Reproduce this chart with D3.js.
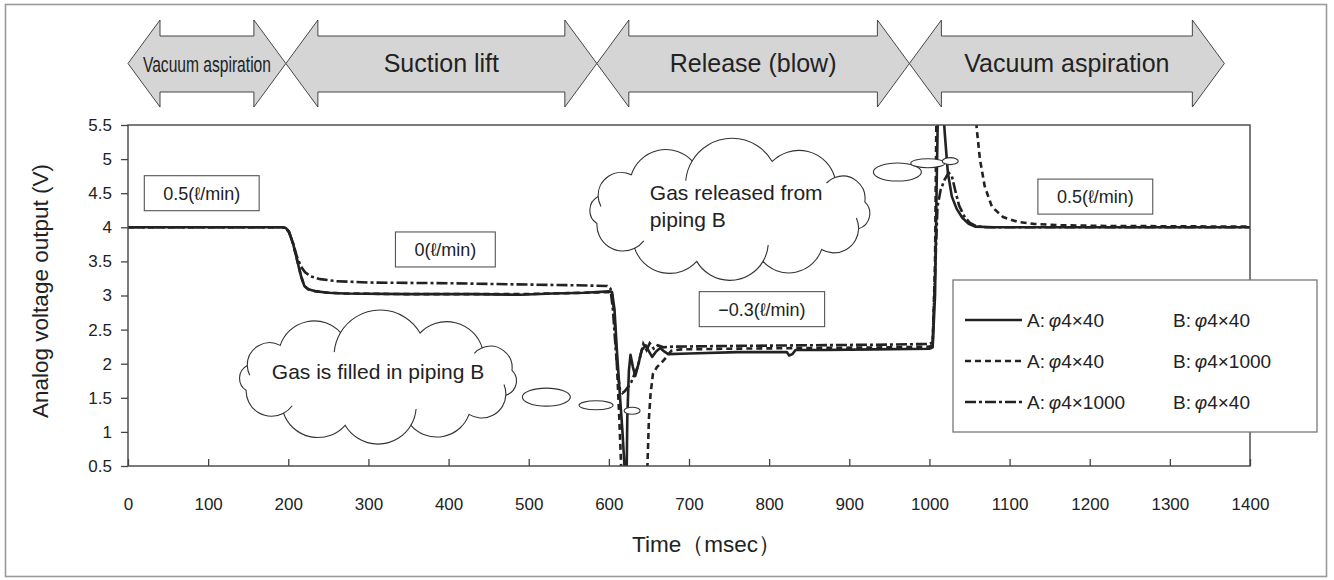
<!DOCTYPE html>
<html><head><meta charset="utf-8">
<script src="https://cdn.jsdelivr.net/npm/d3@7"></script>
<style>
body{margin:0;background:#fff}
svg{display:block}
text{font-family:"Liberation Sans",Arial,"DejaVu Sans",sans-serif;fill:#222}
</style>
</head><body>
<svg id="c" width="1334" height="580"></svg>
<script>
// ---------- data ----------
const xTicks = [0,100,200,300,400,500,600,700,800,900,1000,1100,1200,1300,1400];
const yTicks = [0.5,1,1.5,2,2.5,3,3.5,4,4.5,5,5.5];
const xTitle = "Time（msec）";
const yTitle = "Analog voltage output (V)";

// A:φ4×40 B:φ4×40 (solid)
const seriesSolid = [[0,4.0],[192,4.0],[197,3.99],[201,3.93],[206,3.76],[211,3.52],[216,3.28],[220,3.14],[225,3.09],[235,3.06],[250,3.04],[270,3.03],[350,3.02],[430,3.02],[490,3.01],[530,3.03],[570,3.04],[600,3.06],[604,3.05],[607,2.8],[610,2.2],[614,1.5],[617,1.0],[620,0.4],[621,0.2],[622,0.2],[623,1.2],[625,1.9],[627,2.13],[630,1.95],[633,1.82],[637,2.0],[641,2.2],[646,2.27],[650,2.18],[654,2.1],[659,2.18],[664,2.23],[669,2.18],[674,2.14],[700,2.15],[760,2.17],[800,2.17],[822,2.17],[825,2.12],[829,2.14],[833,2.2],[870,2.2],[930,2.21],[1000,2.22],[1004,2.24],[1007,3.0],[1009,4.6],[1011,6.0],[1016,6.0],[1019,5.4],[1023,4.8],[1028,4.45],[1034,4.27],[1041,4.14],[1049,4.05],[1057,4.01],[1080,4.0],[1400,4.0]];
// A:φ4×40 B:φ4×1000 (dotted)
const seriesDotted = [[0,4.0],[192,4.0],[197,3.99],[201,3.93],[206,3.76],[211,3.52],[216,3.28],[220,3.14],[225,3.09],[235,3.06],[250,3.04],[270,3.03],[350,3.02],[430,3.02],[490,3.02],[530,3.03],[570,3.04],[600,3.05],[604,3.04],[607,2.7],[610,2.0],[613,1.2],[616,0.3],[645,0.3],[648,0.45],[650,1.2],[652,1.55],[655,1.85],[660,1.95],[666,2.02],[672,2.1],[678,2.19],[690,2.21],[750,2.22],[850,2.23],[950,2.24],[1000,2.25],[1004,2.27],[1007,3.5],[1009,6.0],[1056,6.0],[1059,5.45],[1063,5.0],[1069,4.6],[1078,4.3],[1092,4.15],[1110,4.08],[1130,4.05],[1165,4.03],[1220,4.02],[1300,4.015],[1400,4.01]];
// A:φ4×1000 B:φ4×40 (dash-dot)
const seriesDashDot = [[0,4.0],[192,4.0],[197,3.99],[201,3.93],[206,3.76],[211,3.56],[216,3.42],[221,3.34],[228,3.28],[240,3.24],[260,3.21],[300,3.19],[400,3.18],[500,3.16],[560,3.15],[598,3.14],[602,3.1],[605,2.8],[608,2.3],[611,1.85],[614,1.62],[617,1.57],[620,1.6],[624,1.66],[628,1.73],[632,1.85],[636,1.95],[639,2.1],[643,2.29],[647,2.2],[651,2.3],[656,2.22],[661,2.27],[668,2.24],[680,2.25],[750,2.26],[850,2.27],[950,2.28],[1000,2.29],[1004,2.31],[1007,3.3],[1010,4.3],[1014,4.55],[1019,4.7],[1024,4.8],[1028,4.75],[1032,4.55],[1037,4.32],[1043,4.17],[1050,4.07],[1058,4.02],[1070,4.0],[1400,4.0]];

const legendA = ["4×40","4×40","4×1000"];
const legendB = ["4×40","4×1000","4×40"];

// process phases (time, ms)
const phaseLabels = ["Vacuum aspiration","Suction lift","Release (blow)","Vacuum aspiration"];
const phaseBounds = [0,197,585,975,1368];

// flow-rate boxes (label, time, voltage of centre)
const rateLabels = ["0.5(ℓ/min)","0(ℓ/min)","−0.3(ℓ/min)","0.5(ℓ/min)"];
const rateT = [92,396,791,1207];
const rateV = [4.5,3.675,2.8,4.45];

// thought clouds
const cloudTexts = [["Gas is filled in piping B"],["Gas released from","piping B"]];
const cloudT = [312,751];
const cloudV = [1.78,4.24];
const bubbleT = [[522,584,629],[960,998,1026]];
const bubbleV = [[1.51,1.39,1.31],[4.81,4.94,4.97]];

// ---------- drawing ----------
const svg = d3.select("#c");
const x = d3.scaleLinear().domain([0,1400]).range([128,1250]);
const y = d3.scaleLinear().domain([0.5,5.5]).range([466,125]);
const ink = "#222";

// outer frame
svg.append("rect").attr("x",5.5).attr("y",4.5).attr("width",1321).attr("height",572)
  .attr("fill","none").attr("stroke","#9a9a9a").attr("stroke-width",1.6);

// phase arrows
const aTop=20, sTop=36, sBot=92, aBot=107, aMid=(aTop+aBot)/2, head=32;
const gA = svg.append("g");
phaseLabels.forEach((lab,i)=>{
  const xl = x(phaseBounds[i]), xr = x(phaseBounds[i+1]);
  const pts = [[xl,aMid],[xl+head,aTop],[xl+head,sTop],[xr-head,sTop],[xr-head,aTop],[xr,aMid],
               [xr-head,aBot],[xr-head,sBot],[xl+head,sBot],[xl+head,aBot]];
  gA.append("path").attr("d","M"+pts.map(p=>p.join(",")).join("L")+"Z")
    .attr("fill","#d5d5d5").attr("stroke","#333").attr("stroke-width",0.9);
});
phaseLabels.forEach((lab,i)=>{
  const xl = x(phaseBounds[i]), xr = x(phaseBounds[i+1]);
  const t = gA.append("text").attr("x",(xl+xr)/2).attr("y",aMid+8.5)
    .attr("text-anchor","middle").text(lab);
  if(i===0){ t.attr("font-size",22).attr("textLength",128).attr("lengthAdjust","spacingAndGlyphs"); }
  else t.attr("font-size",25);
});

// clip
svg.append("clipPath").attr("id","clip").append("rect")
  .attr("x",128).attr("y",125).attr("width",1250-128).attr("height",466-125);

const line = d3.line().x(d=>x(d[0])).y(d=>y(d[1]));
const gL = svg.append("g").attr("clip-path","url(#clip)");
gL.append("path").datum(seriesDotted).attr("d",line).attr("fill","none")
  .attr("stroke",ink).attr("stroke-width",2.6).attr("stroke-dasharray","6,4");
gL.append("path").datum(seriesDashDot).attr("d",line).attr("fill","none")
  .attr("stroke",ink).attr("stroke-width",2.6).attr("stroke-dasharray","11,3,3,3");
gL.append("path").datum(seriesSolid).attr("d",line).attr("fill","none")
  .attr("stroke",ink).attr("stroke-width",2.6).attr("stroke-linejoin","round");

// plot border
svg.append("rect").attr("x",128).attr("y",125).attr("width",1250-128).attr("height",466-125)
  .attr("fill","none").attr("stroke","#444").attr("stroke-width",1.4);

// axes
const gx = svg.append("g").attr("transform","translate(0,466)")
  .call(d3.axisBottom(x).tickValues(xTicks).tickSize(-7).tickPadding(32).tickFormat(d=>String(d)));
const gy = svg.append("g").attr("transform","translate(128,0)")
  .call(d3.axisLeft(y).tickValues(yTicks).tickSize(7).tickPadding(9).tickFormat(d=>String(d)));
[gx,gy].forEach(g=>{
  g.select(".domain").remove();
  g.selectAll("line").attr("stroke","#444").attr("stroke-width",1.3);
  g.selectAll("text").attr("font-size",17).attr("fill",ink)
    .style("font-family",'"Liberation Sans",Arial,sans-serif');
});

// axis titles
svg.append("text").attr("transform","translate(48,291) rotate(-90)")
  .attr("text-anchor","middle").attr("font-size",22.5).text(yTitle);
svg.append("text").attr("x",632).attr("y",552).attr("font-size",22.5).text(xTitle);

// clouds
function cloudShape(g, cx, cy, rx, ry){
  const angs = [-10,20,48,76,104,134,166,196,224,254,288,320];
  const pts = angs.map(a=>[cx+rx*Math.cos(a*Math.PI/180), cy+ry*Math.sin(a*Math.PI/180)]);
  let d = "M"+pts[0].join(",");
  const stubs = [];
  pts.forEach((A,i)=>{
    const B = pts[(i+1)%pts.length];
    const dx=B[0]-A[0], dy=B[1]-A[1], c=Math.hypot(dx,dy), r=c*0.58;
    d += `A${r},${r} 0 0 1 ${B[0]},${B[1]}`;
    if(i%2===1){
      const h = Math.sqrt(r*r-c*c/4);
      const C=[(A[0]+B[0])/2 - dy/c*h, (A[1]+B[1])/2 + dx/c*h];
      const phi = Math.atan2(A[1]-C[1],A[0]-C[0]) - 0.45;
      const E=[C[0]+r*Math.cos(phi), C[1]+r*Math.sin(phi)];
      stubs.push(`M${A[0]},${A[1]}A${r},${r} 0 0 0 ${E[0]},${E[1]}`);
    }
  });
  g.append("path").attr("d",d+"Z").attr("fill","#fff").attr("stroke","#333").attr("stroke-width",1.1);
  g.append("path").attr("d",stubs.join("")).attr("fill","none").attr("stroke","#333").attr("stroke-width",1.1);
}
const gC = svg.append("g");
const cloudSize = [[136,48],[137,52]];
cloudTexts.forEach((lines,i)=>{
  const cx = x(cloudT[i]), cy = y(cloudV[i]);
  cloudShape(gC, cx, cy, cloudSize[i][0], cloudSize[i][1]);
  bubbleT[i].forEach((bt,j)=>{
    const rr = [[24,9],[17,4.5],[8,3.5]][j];
    gC.append("ellipse").attr("cx",x(bt)).attr("cy",y(bubbleV[i][j])).attr("rx",rr[0]).attr("ry",rr[1])
      .attr("fill","#fff").attr("stroke","#333").attr("stroke-width",1.1);
  });
  if(lines.length===1){
    gC.append("text").attr("x",cx).attr("y",cy).attr("text-anchor","middle").attr("font-size",21).text(lines[0]);
  } else {
    lines.forEach((l,k)=>gC.append("text").attr("x",cx-80).attr("y",cy-11+k*27).attr("font-size",21).text(l));
  }
});

// flow-rate boxes
rateLabels.forEach((lab,i)=>{
  const g = svg.append("g");
  const cx=x(rateT[i]), cy=y(rateV[i]);
  const t = g.append("text").attr("x",cx).attr("y",cy+6.5).attr("text-anchor","middle").attr("font-size",18).text(lab);
  const w = t.node().getComputedTextLength()+38;
  g.insert("rect","text").attr("x",cx-w/2).attr("y",cy-17.5).attr("width",w).attr("height",35)
    .attr("fill","#fff").attr("stroke","#555").attr("stroke-width",1.1);
});

// legend
const gLeg = svg.append("g");
gLeg.append("rect").attr("x",953).attr("y",280).attr("width",364).attr("height",152)
  .attr("fill","#fff").attr("stroke","#777").attr("stroke-width",1.3);
const dashes = [null,"6,4","11,3,3,3"];
legendA.forEach((a,i)=>{
  const ry = 320 + i*41;
  const ln = gLeg.append("line").attr("x1",965).attr("x2",1022).attr("y1",ry).attr("y2",ry)
    .attr("stroke",ink).attr("stroke-width",2.6);
  if(dashes[i]) ln.attr("stroke-dasharray",dashes[i]);
  const ta = gLeg.append("text").attr("x",1027).attr("y",ry+7).attr("font-size",19);
  ta.append("tspan").text("A:\u2009");
  ta.append("tspan").attr("font-style","italic").text("φ");
  ta.append("tspan").text(a);
  const tb = gLeg.append("text").attr("x",1173).attr("y",ry+7).attr("font-size",19);
  tb.append("tspan").text("B:\u2009");
  tb.append("tspan").attr("font-style","italic").text("φ");
  tb.append("tspan").text(legendB[i]);
});
</script>
</body></html>
